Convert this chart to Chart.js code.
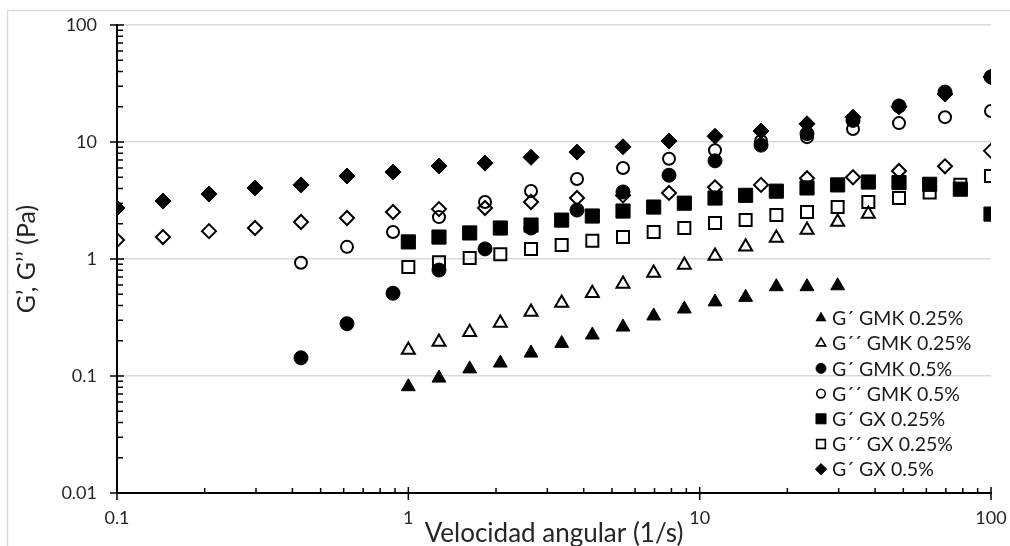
<!DOCTYPE html>
<html>
<head>
<meta charset="utf-8">
<script src="https://cdn.jsdelivr.net/npm/chart.js@4.4.0/dist/chart.umd.min.js"></script>
<style>
  html, body { margin: 0; padding: 0; background: #fff; }
  #wrap { width: 1010px; height: 546px; }
</style>
</head>
<body>
<div id="wrap"><canvas id="myChart" width="1010" height="546"></canvas></div>
<script>
// angular frequency grids (1/s)
const freqA = [0.1, 0.1438, 0.2069, 0.2976, 0.4281, 0.6158, 0.8859, 1.274, 1.833, 2.637,
               3.793, 5.456, 7.848, 11.29, 16.24, 23.36, 33.6, 48.33, 69.52, 100];
const freqB = [1, 1.274, 1.624, 2.069, 2.637, 3.36, 4.281, 5.456, 6.952, 8.859,
               11.29, 14.38, 18.33, 23.36, 29.76, 37.93, 48.33, 61.58, 78.48, 100];

// moduli (Pa)
const gmk025Gp  = [0.081, 0.096, 0.115, 0.129, 0.157, 0.19, 0.224, 0.262, 0.326, 0.374, 0.43, 0.47, 0.58, 0.58, 0.59];
const gmk025Gpp = [0.167, 0.195, 0.237, 0.284, 0.352, 0.42, 0.51, 0.61, 0.76, 0.89, 1.06, 1.27, 1.51, 1.77, 2.07, 2.42];
const gmk05Gp   = [0.143, 0.28, 0.51, 0.805, 1.22, 1.84, 2.62, 3.74, 5.2, 6.9, 9.4, 11.8, 15.3, 20.3, 26.7, 36];
const gmk05Gpp  = [0.93, 1.27, 1.70, 2.28, 3.07, 3.81, 4.83, 6.0, 7.2, 8.5, 10.2, 11.0, 12.9, 14.5, 16.3, 18.4];
const gx025Gp   = [1.40, 1.54, 1.67, 1.84, 1.95, 2.15, 2.33, 2.57, 2.78, 3.0, 3.32, 3.5, 3.8, 4.05, 4.3, 4.55, 4.5, 4.35, 3.95, 2.42];
const gx025Gpp  = [0.855, 0.94, 1.02, 1.1, 1.22, 1.32, 1.43, 1.54, 1.70, 1.84, 2.03, 2.15, 2.38, 2.52, 2.78, 3.07, 3.32, 3.7, 4.3, 5.12];
const gx05Gp    = [2.73, 3.13, 3.59, 4.05, 4.3, 5.12, 5.53, 6.23, 6.6, 7.4, 8.2, 9.1, 10.2, 11.2, 12.4, 14.3, 16.3, 20, 25.7, 36];
const gx05Gpp   = [1.45, 1.54, 1.73, 1.84, 2.07, 2.24, 2.52, 2.67, 2.73, 3.07, 3.32, 3.5, 3.67, 4.1, 4.3, 4.9, 5.0, 5.65, 6.2, 8.4];

const seriesLabels = ['G´ GMK 0.25%', 'G´´ GMK 0.25%', 'G´ GMK 0.5%', 'G´´ GMK 0.5%',
                      'G´ GX 0.25%', 'G´´ GX 0.25%', 'G´ GX 0.5%', 'G´´ GX 0.5%'];
const xTicks = [0.1, 1, 10, 100];
const yTicks = [0.01, 0.1, 1, 10, 100];

const pts = (xs, ys) => ys.map((y, i) => ({ x: xs[i], y: y }));

// marker looks
const INK = '#000000';
const NOFILL = 'rgba(0,0,0,0)';
function marker(style, filled, r) {
  return {
    pointStyle: style,
    pointRadius: r,
    pointHoverRadius: r,
    pointBackgroundColor: filled ? INK : NOFILL,
    pointBorderColor: INK,
    pointBorderWidth: filled ? 1 : 2,
    backgroundColor: filled ? INK : NOFILL,
    borderColor: INK
  };
}

const datasets = [
  Object.assign({ label: seriesLabels[0], data: pts(freqB, gmk025Gp) },  marker('triangle', true, 8)),
  Object.assign({ label: seriesLabels[1], data: pts(freqB, gmk025Gpp) }, marker('triangle', false, 7.5)),
  Object.assign({ label: seriesLabels[2], data: pts(freqA.slice(4), gmk05Gp) },  marker('circle', true, 7)),
  Object.assign({ label: seriesLabels[3], data: pts(freqA.slice(4), gmk05Gpp) }, marker('circle', false, 6)),
  Object.assign({ label: seriesLabels[4], data: pts(freqB, gx025Gp) },  marker('rect', true, 10)),
  Object.assign({ label: seriesLabels[5], data: pts(freqB, gx025Gpp) }, marker('rect', false, 8.5)),
  Object.assign({ label: seriesLabels[6], data: pts(freqA, gx05Gp) },  marker('rectRot', true, 8)),
  Object.assign({ label: seriesLabels[7], data: pts(freqA, gx05Gpp), hideInLegend: true }, marker('rectRot', false, 7))
];

// outer frame, log tick marks, legend inside the plot
const excelBits = {
  id: 'excelBits',
  beforeDraw(chart) {
    const ctx = chart.ctx;
    ctx.save();
    ctx.strokeStyle = '#d9d9d9';
    ctx.lineWidth = 1.5;
    ctx.strokeRect(7.5, 10.5, chart.width + 20, chart.height + 20);
    ctx.restore();
  },
  afterDraw(chart) {
    const ctx = chart.ctx;
    const xs = chart.scales.x, ys = chart.scales.y;
    const ax = chart.chartArea.left, ay = chart.chartArea.bottom;
    ctx.save();
    ctx.strokeStyle = INK;
    ctx.lineWidth = 1.5;
    ctx.beginPath();
    yTicks.forEach((d, k) => {
      const py = ys.getPixelForValue(d);
      ctx.moveTo(ax - 7, py); ctx.lineTo(ax + 7, py);
      if (k < yTicks.length - 1) {
        for (let m = 2; m <= 9; m++) {
          const p = ys.getPixelForValue(m * d);
          ctx.moveTo(ax, p); ctx.lineTo(ax + 6, p);
        }
      }
    });
    xTicks.forEach((d, k) => {
      const px = xs.getPixelForValue(d);
      ctx.moveTo(px, ay - 6); ctx.lineTo(px, ay + 7);
      if (k < xTicks.length - 1) {
        for (let m = 2; m <= 9; m++) {
          const p = xs.getPixelForValue(m * d);
          ctx.moveTo(p, ay); ctx.lineTo(p, ay - 5);
        }
      }
    });
    ctx.stroke();

    // legend
    const lx = chart.chartArea.right - 170;
    let ly = chart.chartArea.bottom - 175;
    ctx.font = '19.5px Lato';
    ctx.textBaseline = 'middle';
    ctx.textAlign = 'left';
    chart.data.datasets.forEach(ds => {
      if (ds.hideInLegend) return;
      const r = ds.pointRadius * 0.72;
      ctx.fillStyle = ds.pointBackgroundColor;
      ctx.strokeStyle = INK;
      ctx.lineWidth = ds.pointBorderWidth * 0.8;
      Chart.helpers.drawPoint(ctx, { pointStyle: ds.pointStyle, radius: r, borderWidth: ctx.lineWidth, rotation: 0 }, lx, ly);
      ctx.fillStyle = '#1a1a1a';
      ctx.fillText(ds.label, lx + 11, ly + 1);
      ly += 25.2;
    });
    ctx.restore();
  }
};

new Chart(document.getElementById('myChart'), {
  type: 'scatter',
  data: { datasets: datasets },
  plugins: [excelBits],
  options: {
    responsive: false,
    animation: false,
    events: [],
    layout: { padding: { left: 8, top: 25, right: 19, bottom: 0 } },
    plugins: {
      legend: { display: false },
      tooltip: { enabled: false }
    },
    scales: {
      x: {
        type: 'logarithmic',
        min: 0.1,
        max: 100,
        afterBuildTicks: s => { s.ticks = xTicks.map(v => ({ value: v })); },
        afterFit: s => { s.height = 53; s.paddingLeft = 0; s.paddingRight = 0; },
        grid: { display: true, color: 'rgba(0,0,0,0)', drawTicks: false },
        border: { display: true, color: INK, width: 2 },
        ticks: {
          autoSkip: false,
          maxRotation: 0,
          padding: 14,
          color: '#262626',
          font: { family: 'Lato', size: 18 },
          callback: v => String(v)
        },
        title: {
          display: true,
          text: 'Velocidad angular (1/s)',
          color: '#262626',
          font: { family: 'Lato', size: 26, lineHeight: 1 },
          padding: { top: 0, bottom: -1 }
        }
      },
      y: {
        type: 'logarithmic',
        min: 0.01,
        max: 100,
        afterBuildTicks: s => { s.ticks = yTicks.map(v => ({ value: v })); },
        afterFit: s => { s.width = 109; s.paddingTop = 0; s.paddingBottom = 0; },
        grid: {
          color: c => (c.tick && c.tick.value === 0.01) ? 'rgba(0,0,0,0)' : '#d9d9d9',
          lineWidth: 1.5,
          drawTicks: false
        },
        border: { display: true, color: INK, width: 2 },
        ticks: {
          autoSkip: false,
          padding: 20,
          color: '#262626',
          font: { family: 'Lato', size: 18 },
          callback: v => String(v)
        },
        title: {
          display: true,
          text: 'G’, G’’ (Pa)',
          color: '#262626',
          font: { family: 'Lato', size: 25, lineHeight: 1 },
          padding: { top: 6, bottom: 0 }
        }
      }
    }
  }
});
</script>
</body>
</html>
